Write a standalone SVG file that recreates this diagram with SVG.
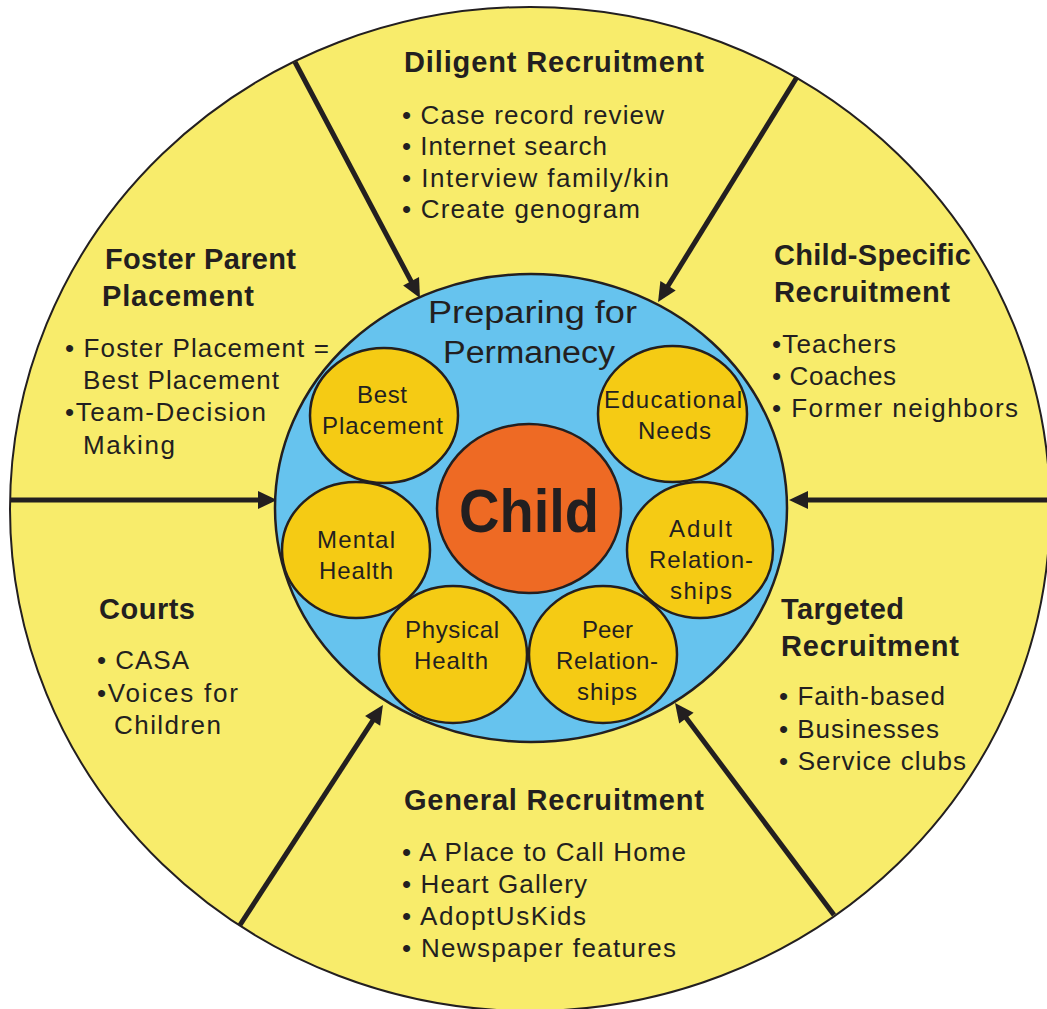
<svg xmlns="http://www.w3.org/2000/svg" width="1047" height="1009" viewBox="0 0 1047 1009">
<style>
text{font-family:"Liberation Sans",Arial,sans-serif;fill:#231F20}
.h{font-size:29px;font-weight:bold}
.b{font-size:26px}
.c{font-size:24px;text-anchor:middle}
.p{font-size:31px}
.conn line{stroke:#231F20;stroke-width:5;fill:none}
.sm{fill:#F5CB14;stroke:#231F20;stroke-width:2.5}
</style>
<defs>
<marker id="ah" markerUnits="userSpaceOnUse" markerWidth="20" markerHeight="18" refX="9" refY="9" orient="auto" overflow="visible">
<path d="M0,0 L19,9 L0,18 z" fill="#231F20"/>
</marker>
</defs>
<rect width="1047" height="1009" fill="#ffffff"/>
<g id="outer"><ellipse cx="530" cy="509" rx="520" ry="502" fill="#F8EC6B" stroke="#231F20" stroke-width="2"/></g>
<g id="connectors" class="conn">
<line x1="295" y1="62" x2="415.3" y2="289.2" marker-end="url(#ah)"/>
<line x1="797" y1="77" x2="663.3" y2="293.5" marker-end="url(#ah)"/>
<line x1="240" y1="925" x2="377.5" y2="713.4" marker-end="url(#ah)"/>
<line x1="834" y1="915" x2="681" y2="711" marker-end="url(#ah)"/>
<line x1="10" y1="500" x2="267" y2="500" marker-end="url(#ah)"/>
<line x1="1050" y1="500" x2="799" y2="500" marker-end="url(#ah)"/>
</g>
<g id="preparing">
<ellipse cx="531" cy="508" rx="256" ry="234" fill="#66C3EE" stroke="#231F20" stroke-width="2.5"/>
<text class="p" x="428" y="323" textLength="209" lengthAdjust="spacingAndGlyphs">Preparing for</text>
<text class="p" x="443" y="363" textLength="172" lengthAdjust="spacingAndGlyphs">Permanecy</text>
</g>
<g id="best"><ellipse class="sm" cx="384" cy="415.5" rx="74" ry="67.5"/>
<text class="c" x="382" y="403" textLength="50">Best</text>
<text class="c" x="382.5" y="434" textLength="121">Placement</text></g>
<g id="educational"><ellipse class="sm" cx="672.5" cy="414" rx="74.5" ry="68"/>
<text class="c" x="673" y="408" textLength="138">Educational</text>
<text class="c" x="674.5" y="439" textLength="73">Needs</text></g>
<g id="mental"><ellipse class="sm" cx="356" cy="550" rx="74" ry="68"/>
<text class="c" x="356" y="548" textLength="78">Mental</text>
<text class="c" x="356" y="579" textLength="74">Health</text></g>
<g id="adult"><ellipse class="sm" cx="700" cy="550" rx="73" ry="68"/>
<text class="c" x="700.5" y="537" textLength="63">Adult</text>
<text class="c" x="701" y="568" textLength="104">Relation-</text>
<text class="c" x="701" y="599" textLength="62">ships</text></g>
<g id="physical"><ellipse class="sm" cx="453" cy="654.5" rx="74" ry="68.5"/>
<text class="c" x="452" y="638" textLength="94">Physical</text>
<text class="c" x="451" y="669" textLength="74">Health</text></g>
<g id="peer"><ellipse class="sm" cx="603" cy="654.5" rx="74" ry="68.5"/>
<text class="c" x="607.5" y="638" textLength="51">Peer</text>
<text class="c" x="607" y="669" textLength="102">Relation-</text>
<text class="c" x="607" y="700" textLength="60">ships</text></g>
<g id="child"><ellipse cx="529" cy="508.5" rx="92" ry="84.5" fill="#EE6A24" stroke="#231F20" stroke-width="2.5"/>
<text x="529" y="532" font-size="61" font-weight="bold" text-anchor="middle" textLength="140" lengthAdjust="spacingAndGlyphs">Child</text></g>
<g id="diligent">
<text class="h" x="404" y="72" textLength="300">Diligent Recruitment</text>
<text class="b" x="402" y="124" textLength="262">• Case record review</text>
<text class="b" x="402" y="155" textLength="205">• Internet search</text>
<text class="b" x="402" y="187" textLength="267">• Interview family/kin</text>
<text class="b" x="402" y="218" textLength="238">• Create genogram</text>
</g>
<g id="foster">
<text class="h" x="105" y="269" textLength="191">Foster Parent</text>
<text class="h" x="102" y="306" textLength="152">Placement</text>
<text class="b" x="65" y="357" textLength="264">• Foster Placement =</text>
<text class="b" x="83" y="389" textLength="196">Best Placement</text>
<text class="b" x="65" y="421" textLength="201">•Team-Decision</text>
<text class="b" x="83" y="454" textLength="92">Making</text>
</g>
<g id="childspecific">
<text class="h" x="774" y="265" textLength="197">Child-Specific</text>
<text class="h" x="774" y="302" textLength="176">Recruitment</text>
<text class="b" x="772" y="353" textLength="124">•Teachers</text>
<text class="b" x="772" y="385" textLength="124">• Coaches</text>
<text class="b" x="772" y="417" textLength="246">• Former neighbors</text>
</g>
<g id="courts">
<text class="h" x="99" y="619" textLength="96">Courts</text>
<text class="b" x="97" y="669" textLength="92">• CASA</text>
<text class="b" x="97" y="702" textLength="141">•Voices for</text>
<text class="b" x="114" y="734" textLength="107">Children</text>
</g>
<g id="targeted">
<text class="h" x="781" y="619" textLength="123">Targeted</text>
<text class="h" x="781" y="656" textLength="178">Recruitment</text>
<text class="b" x="779" y="705" textLength="166">• Faith-based</text>
<text class="b" x="779" y="738" textLength="160">• Businesses</text>
<text class="b" x="779" y="770" textLength="187">• Service clubs</text>
</g>
<g id="general">
<text class="h" x="404" y="810" textLength="300">General Recruitment</text>
<text class="b" x="402" y="861" textLength="284">• A Place to Call Home</text>
<text class="b" x="402" y="893" textLength="185">• Heart Gallery</text>
<text class="b" x="402" y="925" textLength="184">• AdoptUsKids</text>
<text class="b" x="402" y="957" textLength="274">• Newspaper features</text>
</g>
</svg>
